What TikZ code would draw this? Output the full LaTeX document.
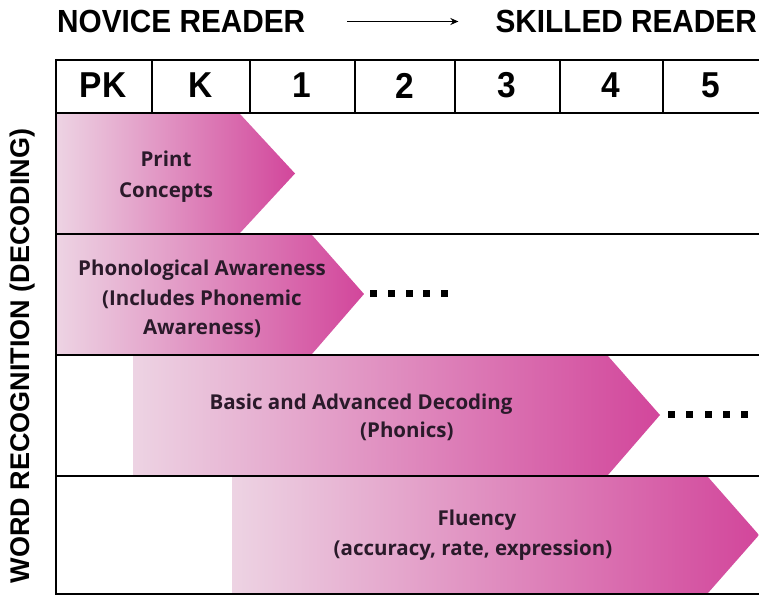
\documentclass[tikz,border=0pt]{standalone}
\usepackage{fontspec}
\setmainfont{Open Sans}
\newfontfamily\headfont[FakeStretch=0.93]{Liberation Sans}
\newfontfamily\vertfont{Liberation Sans}
\usetikzlibrary{arrows.meta}
\definecolor{pinkL}{HTML}{EDD3E3}
\definecolor{pinkR}{HTML}{D2469B}
\definecolor{txt}{HTML}{2A1A2A}
\begin{document}
\begin{tikzpicture}[x=1pt,y=-1pt,
  gridline/.style={line width=2pt, black},
  chev/.style={left color=pinkL, right color=pinkR, draw=none},
  lbl/.style={font=\bfseries\fontsize{20.5}{29.5}\selectfont, text=txt, inner sep=0pt, anchor=base},
  ttl/.style={font=\headfont\bfseries\fontsize{32}{32}\selectfont, inner sep=0pt},
  hdr/.style={font=\headfont\bfseries\fontsize{36}{36}\selectfont, inner sep=0pt},
  vlbl/.style={font=\vertfont\bfseries\fontsize{27}{27}\selectfont, inner sep=0pt, rotate=90},
  dotsq/.style={fill=black}]
\useasboundingbox (0,0) rectangle (759,596);
\fill[white] (0,0) rectangle (759,596);

% chevrons
\shade[chev] (57,114) -- (240,114) -- (295,173.5) -- (240,233) -- (57,233) -- cycle;
\shade[chev] (57,235) -- (312,235) -- (364,294) -- (312,354) -- (57,354) -- cycle;
\shade[chev] (133,356) -- (608,356) -- (660,415) -- (608,475) -- (133,475) -- cycle;
\shade[chev] (232,477) -- (708,477) -- (759,535) -- (708,593) -- (232,593) -- cycle;

% grid
\foreach \yy in {60,113,234,355,476,594} \draw[gridline] (56,\yy) -- (759,\yy);
\draw[gridline] (56,59) -- (56,595);
\foreach \xx in {152,250,355,455,560,663} \draw[gridline] (\xx,60) -- (\xx,113);

% title
\node[ttl, anchor=west] (nov) at (57,21.5) {NOVICE READER};
\node[ttl, anchor=east] (sk) at (757,21.5) {SKILLED READER};
\draw[line width=1.5pt, -{Stealth[length=8pt,width=7pt]}] ([xshift=42pt]nov.east) -- ([xshift=-37pt]sk.west);

% header cells
\node[hdr] (hPK) at (103,85.5) {PK};
\node[hdr] (hK) at (201,85.5) {K};
\node[hdr] (h1) at (302,85.5) {1};
\node[hdr] (h2) at (405,85.5) {2};
\node[hdr] (h3) at (507,85.5) {3};
\node[hdr] (h4) at (611,85.5) {4};
\node[hdr] (h5) at (711,85.5) {5};

% vertical label
\node[vlbl] (wr) at (23,356) {WORD RECOGNITION (DECODING)};

% labels
\node[lbl] (pc1) at (166,167) {Print};
\node[lbl] (pc2) at (166,197) {Concepts};
\node[lbl] (pa1) at (202,275) {Phonological Awareness};
\node[lbl] (pa2) at (202,305) {(Includes Phonemic};
\node[lbl] (pa3) at (202,334) {Awareness)};
\node[lbl] (bd1) at (361,409) {Basic and Advanced Decoding};
\node[lbl, anchor=base west] (bd2) at (360,437) {(Phonics)};
\node[lbl] (fl1) at (477,525) {Fluency};
\node[lbl] (fl2) at (473,555) {(accuracy, rate, expression)};

% dots
\foreach \i in {0,...,4} \fill[dotsq] (370+\i*17.75,289.5) rectangle ++(7,7);
\foreach \i in {0,...,4} \fill[dotsq] (668+\i*18.25,410.5) rectangle ++(7,7);
\end{tikzpicture}
\end{document}
